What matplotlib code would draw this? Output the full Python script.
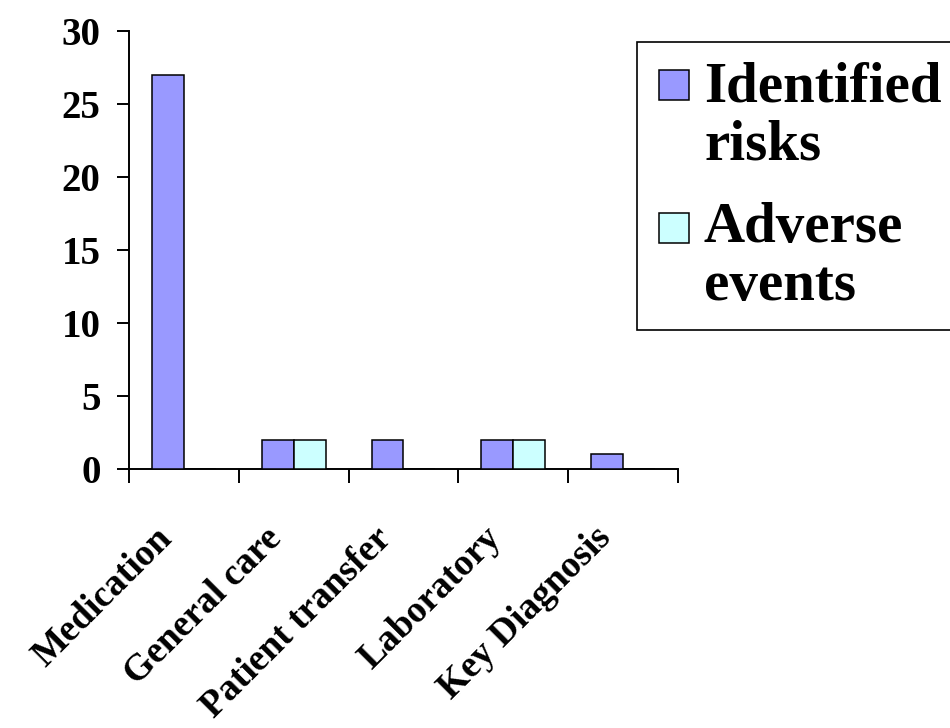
import numpy as np
import matplotlib
matplotlib.use("Agg")
import matplotlib.pyplot as plt
from matplotlib.patches import Rectangle

categories = ["Medication", "General care", "Patient transfer", "Laboratory", "Key Diagnosis"]
identified_risks = [27, 2, 2, 2, 1]
adverse_events = [0, 2, 0, 2, 0]
series_labels = ["Identified\nrisks", "Adverse\nevents"]
y_ticks = [0, 5, 10, 15, 20, 25, 30]

plt.rcParams["font.family"] = ["Liberation Serif", "DejaVu Serif"]
plt.rcParams["font.weight"] = "bold"

W, H = 950, 728
fig = plt.figure(figsize=(W / 100, H / 100), dpi=100)
ax = fig.add_axes([129 / W, 1 - 469 / H, (678 - 129) / W, (469 - 31) / H])

x = np.arange(len(categories))
w = 0.29
colors = ["#9999FF", "#CCFFFF"]
ax.bar(x - w / 2, identified_risks, w, color=colors[0], edgecolor="black", linewidth=1.1, zorder=3)
ax.bar(x + w / 2, adverse_events, w, color=colors[1], edgecolor="black", linewidth=1.1, zorder=3)

ax.set_xlim(-0.5, len(categories) - 0.5)
ax.set_ylim(0, 30)
ax.set_yticks(y_ticks)
ax.set_yticklabels([str(v) for v in y_ticks], fontsize=28, fontweight="bold")
ax.set_xticks(np.arange(len(categories) + 1) - 0.5)
ax.set_xticklabels([])

for s in ["top", "right"]:
    ax.spines[s].set_visible(False)
for s in ["left", "bottom"]:
    ax.spines[s].set_linewidth(1.4)
ax.tick_params(axis="y", direction="out", length=8.5, width=1.4, pad=12)
ax.tick_params(axis="x", direction="out", length=10, width=1.4)

# category labels, slanted under the axis
for i, name in enumerate(categories):
    ax.text(i - 0.27, -0.118, name, transform=ax.get_xaxis_transform(),
            rotation=45, rotation_mode="anchor", ha="right", va="top",
            fontsize=27, fontweight="bold", clip_on=False)

# legend box with swatches aligned to the first line of each label
fig.add_artist(Rectangle((637 / W, 1 - 330 / H), (960 - 637) / W, (330 - 42) / H,
                         transform=fig.transFigure, facecolor="white",
                         edgecolor="black", linewidth=1.2, clip_on=False))
sw_top = [70, 213]
txt_base = [102, 242]
for col, lab, top, base in zip(colors, series_labels, sw_top, txt_base):
    fig.add_artist(Rectangle((659 / W, 1 - (top + 30) / H), 30 / W, 30 / H,
                             transform=fig.transFigure, facecolor=col,
                             edgecolor="black", linewidth=1.1))
    first, second = lab.split("\n")
    fig.text(704 / W, 1 - base / H, first, ha="left", va="baseline",
             fontsize=41, fontweight="bold")
    fig.text(704 / W, 1 - (base + 58) / H, second, ha="left", va="baseline",
             fontsize=41, fontweight="bold")

fig.savefig("out.png", dpi=100)
